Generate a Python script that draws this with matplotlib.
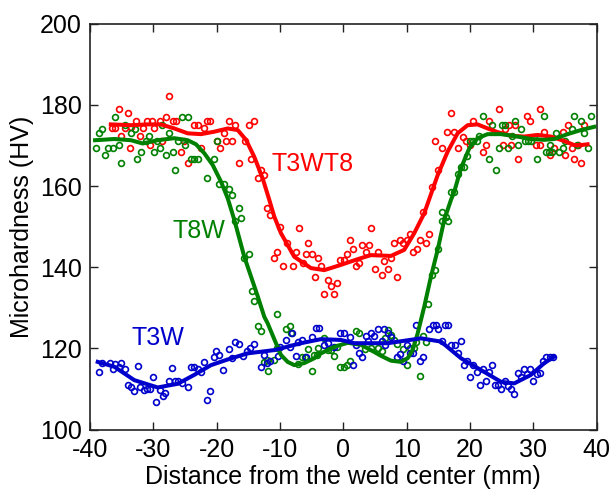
import matplotlib
matplotlib.use("Agg")
import matplotlib.pyplot as plt

plt.rcParams['font.family'] = ['Liberation Sans', 'DejaVu Sans']
plt.rcParams['axes.unicode_minus'] = False

# --- measured microhardness, T3WT8 (red) ---
red_x = [-36.6, -35.99, -35.47, -35.06, -34.55, -34.04, -33.63, -33.52, -32.7, -32.09,
         -31.68, -30.96, -30.45, -30.14, -29.83, -29.01, -28.6, -27.98, -27.57, -26.96,
         -26.44, -25.62, -25.11, -24.6, -23.57, -22.95, -22.54, -22.03, -21.52, -21.0,
         -19.98, -19.46, -18.85, -18.54, -18.03, -17.51, -17.1, -16.49, -15.56, -14.95,
         -14.54, -14.02, -13.51, -12.99, -12.48, -12.07, -11.56, -10.94, -10.43, -9.92,
         -9.51, -8.89, -7.97, -7.45, -7.04, -6.43, -5.91, -5.5, -4.99, -4.48,
         -3.96, -3.55, -3.04, -2.42, -1.91, -1.5, -0.99, -0.47, 0.04, 0.55,
         1.06, 1.58, 1.99, 2.5, 3.02, 3.63, 4.04, 4.45, 4.97, 5.48,
         6.09, 6.5, 7.02, 7.53, 8.04, 8.56, 8.97, 9.48, 10.1, 10.61,
         11.02, 11.64, 12.05, 12.56, 13.07, 13.59, 14.0, 14.51, 15.02, 15.54,
         16.46, 16.97, 17.49, 18.1, 18.92, 19.33, 20.05, 20.46, 22.0, 22.52,
         23.03, 24.57, 25.18, 25.6, 26.11, 26.52, 27.14, 27.55, 29.09, 29.5,
         30.42, 31.14, 31.14, 31.65, 32.58, 33.29, 34.63, 35.04, 35.55, 36.07,
         36.48, 37.09, 37.6, 38.02]
red_y = [174.2, 174.2, 179.1, 172.3, 174.2, 178.1, 169.4, 174.5, 176.1, 172.3,
         174.2, 176.1, 170.2, 176.1, 174.2, 176.1, 171.2, 176.9, 182.2, 176.1,
         176.1, 168.4, 171.2, 165.7, 175.0, 175.0, 169.4, 174.2, 176.1, 176.1,
         171.2, 169.4, 173.1, 171.2, 176.1, 171.2, 175.0, 165.7, 171.2, 175.0,
         166.6, 176.1, 162.0, 163.9, 162.8, 154.6, 152.9, 142.4, 143.7, 149.9,
         140.2, 146.0, 140.2, 143.7, 149.8, 141.1, 143.2, 146.0, 143.2, 137.5,
         142.4, 140.3, 133.5, 136.8, 135.4, 133.5, 136.2, 141.7, 141.7, 143.2,
         146.8, 144.6, 140.2, 141.0, 145.4, 143.7, 145.4, 149.8, 139.5, 143.7,
         138.1, 141.6, 139.5, 142.4, 146.0, 137.5, 146.8, 146.0, 146.8, 148.3,
         143.7, 144.6, 146.8, 153.7, 146.0, 148.3, 159.7, 171.2, 163.9, 169.4,
         173.3, 178.1, 173.3, 169.4, 172.1, 171.2, 170.2, 176.1, 168.4, 170.2,
         176.1, 179.1, 170.2, 174.1, 175.0, 170.2, 175.0, 166.6, 177.2, 176.1,
         170.2, 170.2, 179.1, 173.3, 167.6, 169.4, 173.3, 167.6, 175.0, 169.4,
         166.6, 170.2, 165.6, 175.0]

# --- measured microhardness, T8W (green) ---
green_x = [-39.07, -38.55, -38.04, -37.63, -37.12, -36.4, -36.09, -35.47, -35.06, -34.55,
           -33.52, -32.91, -32.5, -31.99, -31.16, -30.65, -29.93, -29.42, -29.01, -28.6,
           -27.98, -27.47, -26.96, -26.55, -26.03, -25.52, -25.01, -24.49, -24.08, -23.57,
           -22.95, -21.52, -20.49, -19.98, -19.57, -18.85, -18.03, -17.51, -17.1, -16.49,
           -16.08, -15.67, -14.95, -14.43, -14.02, -13.51, -12.99, -12.48, -11.97, -11.87,
           -10.94, -10.43, -10.43, -9.1, -8.48, -8.28, -7.15, -6.53, -6.02, -5.5,
           -4.99, -4.68, -4.17, -3.96, -3.04, -2.42, -2.01, -1.5, -0.99, -0.47,
           0.04, 0.55, 1.06, 1.99, 2.5, 3.43, 4.45, 5.48, 6.09, 6.61,
           7.02, 7.53, 8.04, 8.56, 9.48, 10.1, 10.51, 11.12, 11.53, 12.05,
           12.56, 13.07, 13.38, 14.0, 14.51, 15.02, 15.54, 15.64, 16.26, 16.56,
           16.97, 17.49, 18.1, 18.62, 19.13, 19.54, 20.05, 20.57, 21.08, 21.49,
           22.0, 23.03, 23.54, 24.16, 24.57, 25.08, 25.6, 26.01, 26.62, 27.14,
           27.65, 28.06, 28.68, 29.19, 29.7, 30.11, 30.62, 31.65, 31.96, 32.47,
           32.58, 32.99, 33.6, 34.11, 34.63, 35.04, 36.07, 36.48, 36.99, 37.5,
           38.02, 38.63, 39.15]
green_y = [169.4, 173.1, 174.1, 167.6, 169.4, 169.4, 177.1, 170.2, 165.7, 175.0,
           173.1, 174.1, 166.6, 168.4, 171.2, 172.3, 168.4, 171.2, 169.4, 175.0,
           167.6, 173.1, 168.4, 163.9, 171.2, 177.1, 170.2, 177.1, 166.6, 166.6,
           166.6, 162.0, 166.6, 171.2, 160.4, 160.4, 159.4, 157.9, 151.3, 154.6,
           152.1, 142.4, 143.2, 134.2, 131.6, 125.5, 124.2, 116.6, 117.2, 114.5,
           117.2, 128.4, 120.0, 124.9, 125.5, 123.7, 116.1, 118.0, 118.0, 119.8,
           114.5, 118.4, 118.4, 120.2, 122.6, 119.6, 119.6, 118.2, 120.4, 115.5,
           115.5, 115.9, 116.8, 124.2, 123.7, 119.8, 120.0, 120.0, 119.3, 122.6,
           124.5, 123.3, 122.0, 121.2, 119.8, 115.9, 120.2, 120.2, 121.6, 113.3,
           123.1, 121.5, 131.0, 138.1, 139.3, 144.6, 151.3, 153.7, 152.5, 151.3,
           158.6, 158.6, 163.1, 164.8, 164.8, 167.5, 171.2, 171.2, 171.2, 172.3,
           177.2, 166.7, 175.0, 163.9, 169.4, 175.0, 175.0, 169.4, 172.3, 176.1,
           170.2, 174.1, 171.2, 171.2, 171.2, 172.1, 166.6, 177.2, 168.4, 168.4,
           170.2, 168.4, 173.1, 168.4, 169.4, 171.2, 174.1, 177.2, 170.2, 176.1,
           173.1, 169.4, 177.2]

# --- measured microhardness, T3W (blue) ---
blue_x = [-38.55, -38.04, -36.91, -36.4, -35.99, -35.47, -35.06, -34.45, -34.04, -33.52,
          -33.01, -32.4, -32.09, -31.47, -30.96, -30.45, -30.03, -29.62, -29.01, -28.5,
          -28.09, -27.57, -27.06, -26.55, -26.03, -25.52, -24.6, -24.08, -23.57, -22.95,
          -22.44, -21.93, -21.52, -21.0, -20.49, -20.08, -19.57, -18.95, -18.03, -17.51,
          -17.1, -16.49, -15.77, -15.25, -14.74, -14.02, -12.99, -12.48, -11.97, -11.56,
          -10.33, -9.92, -9.1, -8.38, -8.07, -7.45, -7.15, -6.53, -5.91, -4.99,
          -4.27, -3.76, -3.04, -2.42, -1.4, -0.47, 0.04, 1.06, 1.48, 1.99,
          2.5, 3.02, 3.63, 3.94, 4.45, 4.86, 5.48, 6.09, 6.4, 6.61,
          7.02, 7.53, 8.45, 8.97, 9.48, 10.1, 10.51, 11.02, 11.53, 12.05,
          12.56, 13.59, 14.1, 14.61, 15.02, 15.54, 16.05, 16.56, 17.08, 17.59,
          18.1, 18.62, 19.13, 19.54, 20.05, 20.57, 21.08, 21.59, 22.11, 22.52,
          23.03, 23.54, 23.95, 24.47, 24.98, 25.49, 26.01, 26.52, 27.03, 27.55,
          28.06, 28.57, 29.09, 29.5, 30.01, 30.62, 31.14, 31.55, 32.06, 32.58,
          33.09]
blue_y = [114.1, 116.5, 116.5, 114.9, 116.2, 115.5, 116.4, 115.0, 111.1, 110.5,
          109.6, 115.7, 110.5, 109.7, 110.0, 110.0, 113.0, 106.7, 109.8, 108.2,
          109.0, 112.1, 115.1, 112.1, 112.1, 111.6, 110.5, 115.5, 115.5, 114.9,
          114.1, 116.6, 107.2, 109.6, 117.8, 119.4, 118.4, 114.6, 119.8, 117.6,
          121.6, 121.1, 118.1, 119.4, 120.0, 121.1, 115.5, 118.4, 116.4, 116.8,
          118.1, 120.3, 122.0, 120.3, 123.7, 118.1, 121.6, 122.0, 118.0, 122.9,
          125.1, 125.1, 120.8, 121.4, 120.4, 123.7, 123.8, 122.9, 115.9, 120.8,
          118.9, 117.8, 123.0, 121.9, 123.8, 123.0, 124.9, 121.9, 124.9, 120.8,
          123.8, 122.9, 117.8, 118.6, 116.8, 120.8, 118.9, 118.9, 125.8, 116.9,
          118.0, 124.9, 125.8, 125.8, 124.9, 121.9, 125.8, 125.8, 120.8, 120.8,
          118.9, 121.9, 115.9, 116.8, 112.9, 115.9, 114.1, 111.1, 114.9, 111.9,
          114.1, 115.9, 111.1, 111.1, 110.0, 111.9, 110.8, 110.0, 108.9, 113.9,
          112.9, 114.9, 113.7, 114.9, 111.9, 113.7, 113.9, 116.8, 117.8, 117.8,
          117.8]

# --- fitted curves ---
red_fit_x = [-36.71, -33.52, -30.89, -28.79, -26.69, -24.57, -22.47, -20.37, -18.25, -16.67,
             -15.36, -14.05, -12.73, -11.68, -10.9, -9.84, -7.74, -5.1, -3.0, -0.36,
             2.27, 4.37, 7.53, 9.63, 11.21, 12.79, 14.91, 16.49, 18.06, 19.64,
             21.22, 22.8, 24.38, 26.48, 28.58, 30.7, 32.8, 34.9, 36.48, 37.53, 38.59]
red_fit_y = [175.2, 175.0, 175.2, 175.2, 174.2, 173.0, 172.8, 173.4, 174.2, 173.8,
             171.4, 167.2, 161.9, 156.6, 152.5, 148.4, 142.6, 139.8, 139.3, 140.6,
             142.0, 143.0, 142.8, 144.3, 148.4, 153.3, 162.7, 168.5, 173.0, 175.0,
             175.2, 174.2, 173.3, 172.4, 172.2, 172.6, 172.2, 171.1, 170.1, 170.1, 170.3]

green_fit_x = [-39.2, -36.16, -33.52, -31.68, -29.31, -26.69, -24.57, -23.26, -21.95, -20.62,
               -19.31, -18.25, -17.21, -15.63, -13.52, -12.47, -11.94, -10.63, -9.84, -8.78,
               -7.74, -6.16, -4.58, -3.52, -1.42, 0.69, 2.79, 4.37, 5.95, 7.53,
               9.11, 10.17, 10.96, 11.75, 12.79, 13.85, 14.91, 15.95, 17.01, 17.53,
               18.59, 19.9, 21.22, 22.8, 24.9, 27.54, 29.64, 31.74, 33.32, 35.43,
               37.53, 39.63]
green_fit_y = [171.3, 171.6, 171.3, 170.5, 171.3, 171.8, 171.3, 170.3, 168.1, 165.2,
               161.1, 157.0, 151.7, 142.6, 132.9, 127.8, 126.2, 121.3, 118.4, 116.7,
               115.9, 116.4, 117.6, 118.8, 120.4, 121.4, 120.9, 119.6, 118.2, 117.0,
               116.7, 117.6, 119.6, 123.7, 130.3, 137.7, 144.3, 151.7, 156.6, 158.6,
               164.4, 169.3, 171.8, 172.8, 172.8, 172.2, 171.6, 171.4, 171.6, 172.8,
               173.8, 174.6]

blue_fit_x = [-38.78, -36.16, -33.0, -29.31, -26.15, -23.53, -20.89, -18.25, -15.1, -10.9,
              -6.68, -3.52, -0.36, 1.74, 7.01, 12.27, 15.43, 18.59, 21.75, 24.9,
              27.0, 29.64, 31.75, 33.33]
blue_fit_y = [116.7, 115.5, 112.2, 110.4, 111.3, 113.5, 115.9, 117.3, 118.8, 119.6,
              121.3, 122.3, 122.1, 121.3, 121.3, 122.5, 121.7, 117.6, 114.7, 111.8,
              111.4, 113.5, 116.4, 118.0]

series = [
    ("T3WT8", red_x, red_y, red_fit_x, red_fit_y, "#ff0000", (-11.26, 165.4)),
    ("T8W", green_x, green_y, green_fit_x, green_fit_y, "#008000", (-26.9, 148.9)),
    ("T3W", blue_x, blue_y, blue_fit_x, blue_fit_y, "#0000cc", (-33.5, 122.7)),
]

fig = plt.figure(figsize=(6.11, 4.94), dpi=100)
ax = fig.add_axes([0.1473, 0.1302, 0.8290, 0.8218])

for name, xs, ys, fx, fy, col, (tx, ty) in series:
    ax.plot(xs, ys, 'o', mfc='none', mec=col, ms=4.2, mew=1.2, zorder=2)
    ax.plot(fx, fy, '-', color=col, lw=2.9, zorder=3, solid_joinstyle='round')
    ax.text(tx, ty, name, color=col, fontsize=18, ha='left', va='center')

ax.set_xlim(-40, 40)
ax.set_ylim(100, 200)
ax.set_xticks(range(-40, 41, 10))
ax.set_yticks(range(100, 201, 20))
ax.tick_params(direction='in', top=True, right=True, length=6, width=1.0,
               labelsize=18, pad=6, colors='#222222', labelcolor='black')
for s in ax.spines.values():
    s.set_linewidth(1.2)
    s.set_color('#222222')

ax.set_xlabel("Distance from the weld center (mm)", fontsize=18, labelpad=2)
ax.set_ylabel("Microhardness (HV)", fontsize=18, labelpad=4)

fig.savefig("out.png", dpi=100)
